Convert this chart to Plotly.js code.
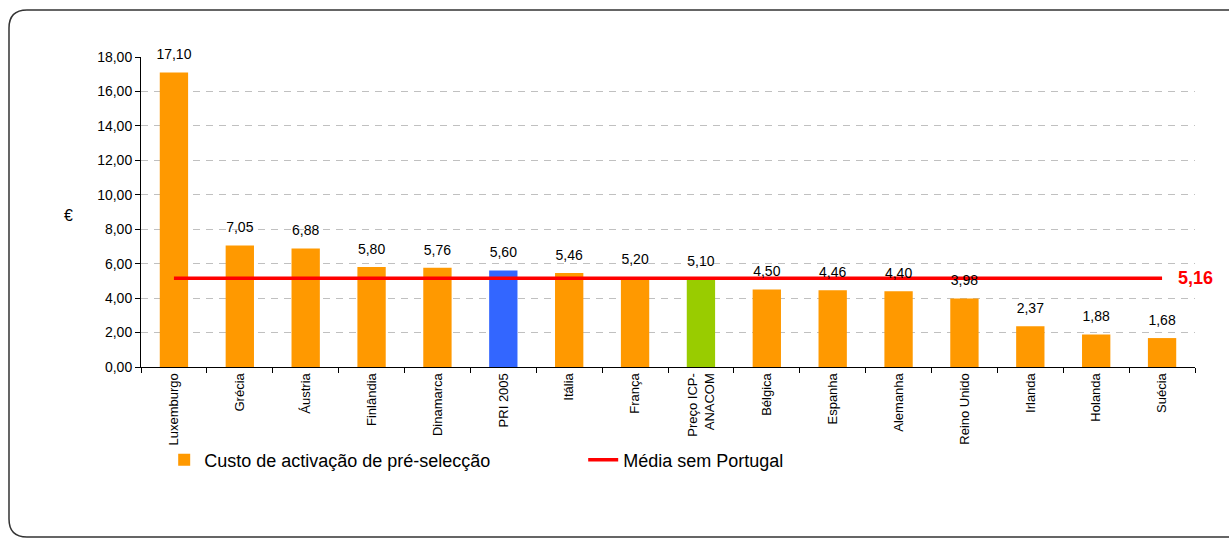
<!DOCTYPE html>
<html>
<head>
<meta charset="utf-8">
<script src="https://cdn.plot.ly/plotly-3.0.1.min.js"></script>
<style>
  html, body { margin: 0; padding: 0; background: #fff; }
  #chart { width: 1229px; height: 539px; }
</style>
</head>
<body>
<div id="chart"></div>
<script>
// Custo de activação de pré-selecção por país (€)
const categories = [
  'Luxemburgo', 'Grécia', 'Áustria', 'Finlândia', 'Dinamarca', 'PRI 2005',
  'Itália', 'França', 'Preço ICP-<br>ANACOM', 'Bélgica', 'Espanha', 'Alemanha',
  'Reino Unido', 'Irlanda', 'Holanda', 'Suécia'
];
const custoActivacao = [17.10, 7.05, 6.88, 5.80, 5.76, 5.60, 5.46, 5.20, 5.10,
                        4.50, 4.46, 4.40, 3.98, 2.37, 1.88, 1.68];
const barColors = ['#FF9900', '#FF9900', '#FF9900', '#FF9900', '#FF9900', '#3366FF',
                   '#FF9900', '#FF9900', '#99CC00', '#FF9900', '#FF9900', '#FF9900',
                   '#FF9900', '#FF9900', '#FF9900', '#FF9900'];
const mediaSemPortugal = 5.16;
const yTickValues = [0, 2, 4, 6, 8, 10, 12, 14, 16, 18];

const FONT = 'Liberation Sans, Arial, sans-serif';

// page geometry (px) used to place the rounded frame around the chart
const W = 1229, H = 539;
const mL = 141, mR = 34, mT = 57, mB = 172;
const pw = W - mL - mR, ph = H - mT - mB;
const px = x => ((x - mL) / pw).toFixed(5);
const py = y => ((H - mB - y) / ph).toFixed(5);

function framePath(left, top, right, bottom, r) {
  return 'M' + px(right) + ',' + py(top) +
    ' L' + px(left + r) + ',' + py(top) +
    ' Q' + px(left) + ',' + py(top) + ' ' + px(left) + ',' + py(top + r) +
    ' L' + px(left) + ',' + py(bottom - r) +
    ' Q' + px(left) + ',' + py(bottom) + ' ' + px(left + r) + ',' + py(bottom) +
    ' L' + px(right) + ',' + py(bottom);
}

const bars = {
  type: 'bar',
  name: 'Custo de activação de pré-selecção',
  x: categories,
  y: custoActivacao,
  marker: { color: barColors },
  width: 0.43,
  hoverinfo: 'x+y'
};

// value labels sitting a little above each bar
const valueLabels = {
  type: 'scatter',
  mode: 'markers+text',
  x: categories,
  y: custoActivacao,
  text: custoActivacao.map(v => v.toFixed(2).replace('.', ',')),
  textposition: 'top center',
  textfont: { family: FONT, size: 14, color: '#000' },
  marker: { size: 14, opacity: 0 },
  cliponaxis: false,
  showlegend: false,
  hoverinfo: 'skip'
};

const media = {
  type: 'scatter',
  mode: 'lines',
  name: 'Média sem Portugal',
  x: [categories[0], categories[categories.length - 1]],
  y: [mediaSemPortugal, mediaSemPortugal],
  line: { color: '#FF0000', width: 3.5 },
  hoverinfo: 'y'
};

const layout = {
  width: W,
  height: H,
  margin: { l: mL, r: mR, t: mT, b: mB, pad: 0 },
  paper_bgcolor: '#fff',
  plot_bgcolor: '#fff',
  separators: ',.',
  font: { family: FONT, size: 13, color: '#000' },
  showlegend: true,
  legend: {
    orientation: 'h',
    x: 0.022, xanchor: 'left',
    y: -0.30, yanchor: 'middle',
    font: { family: FONT, size: 18, color: '#000' },
    entrywidth: 374,
    entrywidthmode: 'pixels',
    bgcolor: 'rgba(0,0,0,0)'
  },
  xaxis: {
    type: 'category',
    range: [-0.5, categories.length - 0.5],
    showgrid: false,
    showline: true,
    linecolor: '#000',
    linewidth: 1,
    ticks: 'outside',
    tickson: 'boundaries',
    ticklen: 5,
    tickcolor: '#000',
    tickangle: -90,
    tickfont: { family: FONT, size: 13, color: '#000' },
    fixedrange: true
  },
  yaxis: {
    range: [0, 18],
    tickvals: yTickValues,
    tickformat: '.2f',
    showline: true,
    linecolor: '#000',
    linewidth: 1,
    ticks: 'outside',
    ticklen: 5,
    tickcolor: '#000',
    showgrid: true,
    gridcolor: '#c0c0c0',
    griddash: '7px,6px',
    gridwidth: 1,
    zeroline: false,
    tickfont: { family: FONT, size: 14, color: '#000' },
    fixedrange: true
  },
  annotations: [
    {
      text: '€', xref: 'paper', yref: 'paper',
      x: -0.075, y: 0.49, showarrow: false,
      font: { family: FONT, size: 16, color: '#000' }
    },
    {
      text: '<b>' + mediaSemPortugal.toFixed(2).replace('.', ',') + '</b>',
      xref: 'paper', yref: 'y',
      x: 1.0, y: mediaSemPortugal, xanchor: 'center', yanchor: 'middle',
      showarrow: false,
      font: { family: FONT, size: 18, color: '#FF0000' }
    }
  ],
  shapes: [
    {
      type: 'path', xref: 'paper', yref: 'paper', layer: 'above',
      path: framePath(9, 10, 1245, 537, 18),
      line: { color: '#333', width: 1.5 }
    }
  ]
};

Plotly.newPlot('chart', [bars, media, valueLabels], layout, { displayModeBar: false, staticPlot: true });
</script>
</body>
</html>
